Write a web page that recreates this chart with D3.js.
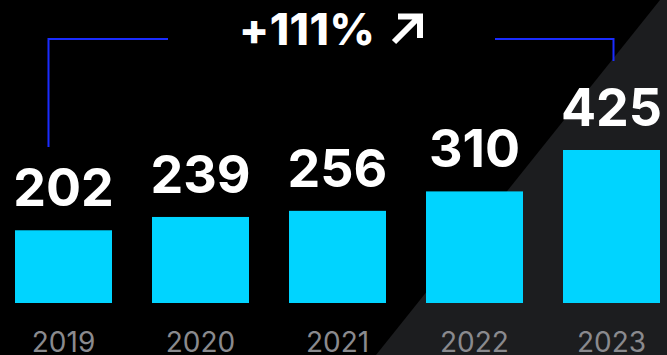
<!DOCTYPE html>
<html>
<head>
<meta charset="utf-8">
<script src="https://cdn.jsdelivr.net/npm/d3@7"></script>
<style>
  html, body { margin: 0; padding: 0; background: #000; }
  svg { display: block; }
</style>
</head>
<body>
<div id="chart"></div>
<script>
document.addEventListener('DOMContentLoaded', function () {
    // Data
    const years = ["2019", "2020", "2021", "2022", "2023"];
    const values = [202, 239, 256, 310, 425];
    const growthLabel = "+111%";

    const width = 667;
    const height = 355;
    const baseline = 303;

    const svg = d3.select("#chart")
        .append("svg")
        .attr("width", width)
        .attr("height", height);

    // Background: black with a dark grey diagonal panel on the right
    svg.append("rect")
        .attr("width", width)
        .attr("height", height)
        .attr("fill", "#000");

    svg.append("path")
        .attr("d", `M660,0 L${width},0 L${width},${height} L376,${height} Z`)
        .attr("fill", "#1c1d1f");

    // Scales
    const x = d3.scaleBand()
        .domain(years)
        .range([15, 660])
        .paddingInner(40 / 137)
        .paddingOuter(0);

    const y = d3.scaleLinear()
        .domain([0, d3.max(values)])
        .range([baseline, 150]);

    const data = years.map((yr, i) => ({ year: yr, value: values[i] }));

    // Bars
    svg.selectAll("rect.bar")
        .data(data)
        .enter()
        .append("rect")
        .attr("class", "bar")
        .attr("x", d => x(d.year))
        .attr("y", d => y(d.value))
        .attr("width", x.bandwidth())
        .attr("height", d => baseline - y(d.value))
        .attr("fill", "#00d4ff");

    // Value labels
    svg.selectAll("text.value")
        .data(data)
        .enter()
        .append("text")
        .attr("class", "value")
        .attr("x", d => x(d.year) + x.bandwidth() / 2)
        .attr("y", d => y(d.value) - 24)
        .attr("text-anchor", "middle")
        .attr("font-family", "Inter, sans-serif")
        .attr("font-weight", 700)
        .attr("font-size", 52)
        .attr("fill", "#fff")
        .text(d => d.value);

    // Year axis labels (partly cut by the bottom edge, as in the original)
    const axis = svg.append("g")
        .attr("transform", "translate(0,352)")
        .call(d3.axisBottom(x).tickSize(0).tickPadding(0));
    axis.select(".domain").remove();
    axis.selectAll("text")
        .attr("dy", 0)
        .attr("font-family", "Inter, sans-serif")
        .attr("font-size", 28)
        .attr("fill", "#8a8a8e");

    // Growth bracket from first to last bar
    const x0 = x(years[0]) + x.bandwidth() / 2 - 15;
    const x1 = x(years[years.length - 1]) + x.bandwidth() / 2 + 2;
    const bracketY = 39;
    svg.append("path")
        .attr("d", `M${x0},147 L${x0},${bracketY} L168,${bracketY}`)
        .attr("fill", "none")
        .attr("stroke", "#1a2cff")
        .attr("stroke-width", 2);
    svg.append("path")
        .attr("d", `M495,${bracketY} L${x1},${bracketY} L${x1},61`)
        .attr("fill", "none")
        .attr("stroke", "#1a2cff")
        .attr("stroke-width", 2);

    // Growth label with arrow
    svg.append("text")
        .attr("x", 239)
        .attr("y", 45)
        .attr("font-family", "Inter, sans-serif")
        .attr("font-weight", 800)
        .attr("font-size", 44)
        .attr("letter-spacing", 0.5)
        .attr("fill", "#fff")
        .text(growthLabel);

    svg.append("path")
        .attr("d", "M394,42 L418,18 M398,16.5 L420,16.5 L420,38")
        .attr("fill", "none")
        .attr("stroke", "#fff")
        .attr("stroke-width", 6);
});
</script>
</body>
</html>
